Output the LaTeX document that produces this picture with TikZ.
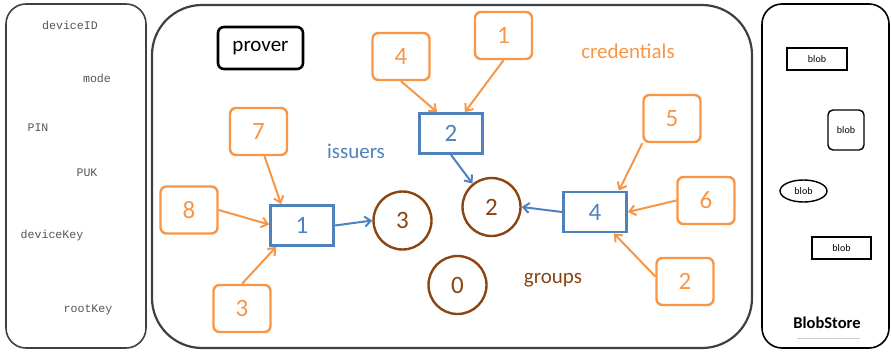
\documentclass[tikz,border=0pt]{standalone}
\usepackage{fontspec}
\setmainfont{Carlito}
\newfontfamily\monofont{Liberation Mono}
\usetikzlibrary{arrows.meta,shapes.geometric}
\definecolor{credorange}{HTML}{F79646}
\definecolor{issblue}{HTML}{4F81BD}
\definecolor{grpbrown}{HTML}{8A4512}
\definecolor{frame}{HTML}{404040}
\definecolor{monogray}{HTML}{555555}
\tikzset{
  container/.style={draw=frame, line width=1.6pt, rounded corners=20pt},
  field/.style={font=\monofont\fontsize{11.6}{12}\selectfont, text=monogray},
  cred/.style={draw=credorange, line width=2.4pt, rounded corners=6pt,
    minimum width=57pt, minimum height=47pt, inner sep=0pt,
    text=credorange, font=\fontsize{25}{27}\selectfont},
  issuer/.style={draw=issblue, line width=2.8pt,
    minimum width=63pt, minimum height=40pt, inner sep=0pt,
    text=issblue, font=\fontsize{25}{27}\selectfont},
  group/.style={draw=grpbrown, line width=2.4pt, circle,
    minimum size=58pt, inner sep=0pt,
    text=grpbrown, font=\fontsize{25}{27}\selectfont},
  blob/.style={draw=black, line width=1.4pt, inner sep=0pt,
    font=\fontsize{10}{11}\selectfont},
  tag/.style={font=\fontsize{21}{23}\selectfont},
  credarrow/.style={draw=credorange, line width=2pt,
    -{Straight Barb[length=6pt,width=10pt]}},
  issarrow/.style={draw=issblue, line width=2pt,
    -{Straight Barb[length=6pt,width=10pt]}},
}
\begin{document}
\begin{tikzpicture}[x=1pt,y=-1pt]
\useasboundingbox (0,0) rectangle (891,351);

% device fields
\draw[container] (6,4) rectangle (146,348);
\node[field] (deviceID) at (70,25) {deviceID};
\node[field] (mode) at (97,78) {mode};
\node[field] (pin) at (38,128) {PIN};
\node[field] (puk) at (87,173) {PUK};
\node[field] (deviceKey) at (52,235) {deviceKey};
\node[field] (rootKey) at (88,310) {rootKey};

% blob store
\draw[draw=black, line width=1.6pt, rounded corners=20pt] (762,4) rectangle (889,348);
\node[blob, minimum width=60pt, minimum height=22pt] (blobA) at (817,59) {blob};
\node[blob, rounded corners=5pt, minimum width=36pt, minimum height=40pt] (blobB) at (846,130) {blob};
\node[blob, ellipse, minimum width=47pt, minimum height=22pt] (blobC) at (803.5,191) {blob};
\node[blob, minimum width=59pt, minimum height=22pt] (blobD) at (841.5,248) {blob};
\node[font=\bfseries\fontsize{16.5}{18}\selectfont] (blobstore) at (827,323) {BlobStore};
\draw[black!20, line width=0.8pt] (797,338) -- (860,338);

% prover
\draw[draw=frame, line width=2.2pt, rounded corners=50pt] (152,5) rectangle (752,348);
\node[draw=black, line width=2.6pt, rounded corners=6pt, minimum width=85pt,
  minimum height=42pt, inner sep=0pt, tag] (prover) at (260.5,48) {prover};

\node[tag, text=issblue] (issuers) at (356,151) {issuers};
\node[tag, text=credorange] (credentials) at (628,51) {credentials};
\node[tag, text=grpbrown] (groups) at (553,280) {groups};

% issuers
\node[issuer] (i2) at (451,133.5) {2};
\node[issuer] (i1) at (302,225.5) {1};
\node[issuer] (i4) at (595,212) {4};

% groups
\node[group] (g3) at (402.5,220.5) {3};
\node[group] (g2) at (491.5,207) {2};
\node[group] (g0) at (457.5,285) {0};

% credentials
\node[cred] (c4) at (401,56.5) {4};
\node[cred] (c1) at (503.5,35.5) {1};
\node[cred] (c7) at (258.5,131.5) {7};
\node[cred] (c5) at (672,118.5) {5};
\node[cred] (c8) at (189,210) {8};
\node[cred] (c3) at (242,308.5) {3};
\node[cred] (c6) at (706,200.5) {6};
\node[cred] (c2) at (685,281.5) {2};

% credential -> issuer
\draw[credarrow] (c4.south) -- ([xshift=19pt]i2.north west);
\draw[credarrow] (c1.south) -- ([xshift=-19pt]i2.north east);
\draw[credarrow] ([xshift=6pt]c7.south) -- ([xshift=12pt]i1.north west);
\draw[credarrow] (c8.east) -- ([yshift=1pt]i1.west);
\draw[credarrow] (c3.north) -- ([xshift=7pt]i1.south west);
\draw[credarrow] (c5.south west) -- ([xshift=-9pt]i4.north east);
\draw[credarrow] (c6.west) -- (i4.east);
\draw[credarrow] ([yshift=5pt]c2.west) -- ([xshift=-14pt]i4.south east);

% issuer -> group
\draw[issarrow] (i1.east) -- (g3.west);
\draw[issarrow] (i2.south) -- (g2.129);
\draw[issarrow] (i4.west) -- (g2.east);
\end{tikzpicture}
\end{document}
